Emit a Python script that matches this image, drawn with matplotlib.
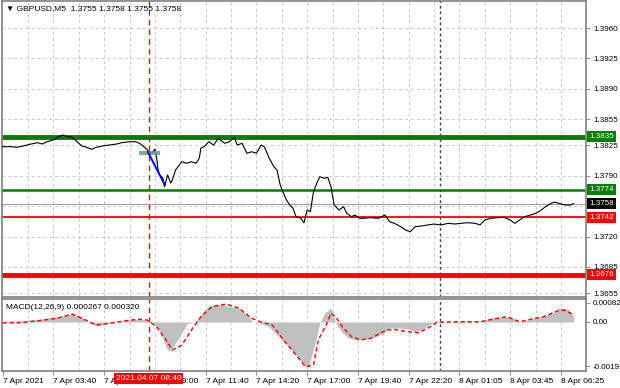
import numpy as np
import matplotlib
matplotlib.use("Agg")
import matplotlib.pyplot as plt
from matplotlib.patches import Rectangle

plt.rcParams['font.family'] = ['Liberation Sans', 'DejaVu Sans']

# Price line (bar index, close)
price_bars = [0, 5, 9, 13, 18, 22, 25, 28, 32, 35, 38, 41, 44, 47, 50, 53, 56, 59, 63, 67,
              72, 75, 80, 84, 87, 91, 92, 94, 96, 97, 98, 99, 101, 102, 104, 106, 107, 109, 113, 116,
              119, 122, 124, 125, 127, 130, 133, 136, 140, 143, 146, 148, 151, 154, 157, 160, 163, 165, 168, 171,
              173, 175, 177, 179, 181, 183, 185, 188, 190, 192, 194, 196, 198, 200, 203, 205, 207, 209, 212, 215,
              217, 220, 222, 225, 228, 232, 237, 241, 244, 247, 251, 254, 257, 260, 264, 268, 272, 276, 281, 285,
              289, 293, 298, 301, 304, 308, 312, 316, 320, 323, 326, 329, 333, 336, 339, 342, 345, 348, 352, 355,
              358, 360]
price_vals = [1.38234, 1.38234, 1.38227, 1.38242, 1.38265, 1.38280, 1.38265, 1.38291, 1.38311, 1.38349,
              1.38368, 1.38349, 1.38342, 1.38291, 1.38242, 1.38227, 1.38204, 1.38227, 1.38242, 1.38253,
              1.38265, 1.38280, 1.38291, 1.38291, 1.38265, 1.38204, 1.38176, 1.38158, 1.38207, 1.38119,
              1.37966, 1.37908, 1.37874, 1.37773, 1.37908, 1.37816, 1.37850, 1.37966, 1.38061, 1.38043,
              1.38061, 1.38043, 1.38104, 1.38219, 1.38234, 1.38291, 1.38253, 1.38330, 1.38273, 1.38291,
              1.38342, 1.38253, 1.38273, 1.38158, 1.38176, 1.38158, 1.38253, 1.38234, 1.38104, 1.38004,
              1.37966, 1.37793, 1.37701, 1.37620, 1.37563, 1.37528, 1.37428, 1.37410, 1.37359, 1.37505,
              1.37486, 1.37716, 1.37812, 1.37888, 1.37870, 1.37882, 1.37773, 1.37563, 1.37505, 1.37543,
              1.37467, 1.37428, 1.37448, 1.37410, 1.37410, 1.37417, 1.37410, 1.37448, 1.37370, 1.37352,
              1.37313, 1.37275, 1.37255, 1.37313, 1.37321, 1.37333, 1.37344, 1.37333, 1.37352, 1.37344,
              1.37352, 1.37359, 1.37352, 1.37333, 1.37390, 1.37410, 1.37417, 1.37421, 1.37390, 1.37352,
              1.37390, 1.37428, 1.37448, 1.37467, 1.37497, 1.37540, 1.37574, 1.37597, 1.37574, 1.37563,
              1.37563, 1.37580]

# MACD main (histogram)
macd_bars = [0, 11, 23, 34, 40, 45, 50, 53, 59, 63, 69, 78, 86, 91, 94, 99, 102, 104, 106, 109,
             113, 116, 121, 124, 127, 130, 136, 143, 149, 154, 158, 163, 168, 172, 178, 185, 190, 193, 197, 200,
             203, 207, 208, 210, 214, 218, 223, 229, 235, 241, 244, 249, 256, 260, 266, 271, 276, 287, 301, 307,
             314, 320, 326, 333, 341, 348, 351, 356, 360]
macd_vals = [0.00004, 0.00006, 0.00012, 0.00023, 0.00030, 0.00035, 0.00023, 0.0, -0.00017, -0.00013,
             -0.00003, 0.00009, 0.00012, 0.00009, 0.0, -0.00035, -0.00091, -0.00122, -0.00122, -0.00091,
             -0.00048, -0.00009, 0.0, 0.00017, 0.00052, 0.00070, 0.00078, 0.00067, 0.00061, 0.00030,
             0.0, -0.00006, -0.00022, -0.00048, -0.00091, -0.00144, -0.00187, -0.00191, -0.00091, -0.00004,
             0.00039, 0.00061, 0.00039, -0.00004, -0.00044, -0.00070, -0.00078, -0.00074, -0.00065, -0.00044,
             -0.00026, -0.00026, -0.00030, -0.00044, -0.00026, -0.00004, 0.0, 0.00004, 0.00004, 0.00017,
             0.00022, 0.00022, 0.0, 0.00013, 0.00026, 0.00044, 0.00061, 0.00057, 0.000267]

# MACD signal
sig_bars = [0, 11, 23, 34, 44, 50, 59, 67, 78, 86, 91, 97, 103, 107, 113, 119, 125, 132, 141, 149,
            157, 163, 170, 178, 185, 191, 196, 199, 204, 207, 210, 214, 220, 226, 232, 242, 247, 255, 262, 270,
            274, 287, 301, 312, 318, 326, 333, 341, 350, 354, 360]
sig_vals = [-0.00004, -0.00003, 0.00006, 0.00016, 0.00034, 0.00016, -0.00013, -0.00006, 0.00006, 0.00012,
            0.00009, -0.00020, -0.00078, -0.00122, -0.00100, -0.00035, 0.00023, 0.00067, 0.00078, 0.00060,
            0.00016, 0.0, -0.00013, -0.00086, -0.00144, -0.00195, -0.00187, -0.00078, -0.00013, 0.00038,
            0.00023, -0.00020, -0.00064, -0.00078, -0.00071, -0.00035, -0.00032, -0.00042, -0.00047, -0.00020,
            -0.00001, 0.00001, 0.00001, 0.00016, 0.00023, 0.00001, 0.00012, 0.00023, 0.00049, 0.00052,
            0.00032]

# levels and labels
green_levels = [1.3835, 1.3774]
red_levels = [1.3742, 1.3676]
bid = 1.3758
price_ticks = [1.3960, 1.3925, 1.3890, 1.3855, 1.3825, 1.3790, 1.3755, 1.3720, 1.3685, 1.3655]
macd_ticks = [0.000827, 0.0, -0.001916]
macd_tick_labels = ["0.000827", "0.00", "-0.001916"]
time_ticks = [0, 32, 64, 96, 128, 160, 192, 224, 256, 288, 320, 352]
time_labels = ["7 Apr 2021", "7 Apr 03:40", "7 Apr 06:20", "7 Apr 09:00", "7 Apr 11:40", "7 Apr 14:20",
               "7 Apr 17:00", "7 Apr 19:40", "7 Apr 22:20", "8 Apr 01:05", "8 Apr 03:45", "8 Apr 06:25"]
signal_bar = 92
day_sep_bar = 276

W, H = 620, 388
def rect(x0, y0, x1, y1):
    return [x0 / W, 1 - y1 / H, (x1 - x0) / W, (y1 - y0) / H]

fig = plt.figure(figsize=(6.2, 3.88), dpi=100)
ax = fig.add_axes(rect(2, 1, 586, 297))
mx = fig.add_axes(rect(2, 299, 586, 371), sharex=ax)

xmin, xmax = -0.4, 367.8
grid_kw = dict(color='#c8c8c8', lw=0.7, ls=(0, (3, 3)), zorder=0)
for a in (ax, mx):
    for g in np.arange(16, xmax, 16):
        a.axvline(g, **grid_kw)
    a.axvline(signal_bar, color='red', lw=1, ls=(0, (4, 3)), zorder=1)
    a.axvline(day_sep_bar, color='#404040', lw=1, ls=(0, (2, 2)), zorder=1)
    for s in a.spines.values():
        s.set_color('#808080')
        s.set_linewidth(1.2)
    a.yaxis.tick_right()
    a.tick_params(axis='y', length=3, width=0.6, colors='#808080', labelcolor='black',
                  labelsize=5.8, pad=2)
    a.tick_params(axis='x', length=3, width=0.6, colors='#808080', labelcolor='black',
                  labelsize=6, pad=2)

for t in price_ticks:
    ax.axhline(t, **grid_kw)

# price panel
ax.plot(price_bars, price_vals, color='black', lw=0.8, zorder=3)
ax.axhline(green_levels[0], color='#008000', lw=3.5, zorder=2)
ax.axhline(green_levels[1], color='#008000', lw=1.8, zorder=2)
ax.axhline(red_levels[0], color='#ff0000', lw=1.3, zorder=2)
ax.axhline(red_levels[1], color='#ff0000', lw=3.5, zorder=2)
ax.axhline(bid, color='#a0a0a0', lw=0.8, zorder=1)
ax.add_patch(Rectangle((86, 1.38138), 13, 0.00046, color='#5f9ea0', alpha=0.85, zorder=4, lw=0))
ax.plot([91.6, 102.3], [1.38173, 1.37793], color='#0000ff', lw=1.4, zorder=5)

ax.set_xlim(xmin, xmax)
ax.set_ylim(1.36504, 1.39911)
ax.set_yticks(price_ticks)
ax.set_yticklabels(["%.4f" % t if abs(t - 1.3755) > 1e-6 else "" for t in price_ticks])
ax.tick_params(axis='x', labelbottom=False, length=0)

for lvl, col in [(green_levels[0], '#008000'), (green_levels[1], '#008000'), (bid, 'black'),
                 (red_levels[0], '#ff0000'), (red_levels[1], '#ff0000')]:
    ax.text(1.006, lvl, "%.4f" % lvl, transform=ax.get_yaxis_transform(), ha='left', va='center',
            fontsize=5.8, color='white', zorder=10, clip_on=False,
            bbox=dict(boxstyle='square,pad=0.25', fc=col, ec='none'))

ax.text(0.006, 0.985, "\u25bc GBPUSD,M5  1.3755 1.3758 1.3755 1.3758", transform=ax.transAxes,
        ha='left', va='top', fontsize=6, color='black')

# MACD panel
mx.fill_between(macd_bars, macd_vals, 0, color='#c0c0c0', lw=0, zorder=2)
mx.plot(sig_bars, sig_vals, color='#ff0000', lw=1, ls=(0, (3, 2)), zorder=3)
mx.set_ylim(-0.002133, 0.001001)
mx.set_yticks(macd_ticks)
mx.set_yticklabels(macd_tick_labels)
mx.set_xticks(time_ticks)
mx.set_xticklabels(time_labels, ha='left')
mx.text(0.006, 0.93, "MACD(12,26,9) 0.000267 0.000320", transform=mx.transAxes,
        ha='left', va='top', fontsize=6, color='black')

mx.text(signal_bar, -0.055, "2021.04.07 08:40", transform=mx.get_xaxis_transform(),
        ha='center', va='top', fontsize=6, color='white', zorder=10, clip_on=False,
        bbox=dict(boxstyle='square,pad=0.2', fc='#ff0000', ec='none'))

fig.savefig("out.png", dpi=100, facecolor='white')
